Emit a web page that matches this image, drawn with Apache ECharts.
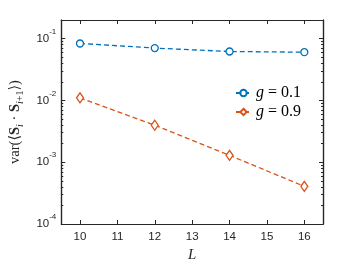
<!DOCTYPE html>
<html><head><meta charset="utf-8">
<script src="https://cdn.jsdelivr.net/npm/echarts@6/dist/echarts.min.js"></script>
<style>html,body{margin:0;padding:0;background:#fff}#c{width:357px;height:268px}</style>
</head><body><div id="c"></div>
<script>
var L = [10, 12, 14, 16];
var g01 = [0.0834, 0.0703, 0.0618, 0.0603];
var g09 = [0.0110, 0.00397, 0.00129, 0.000407];
var xTicks = [10, 11, 12, 13, 14, 15, 16];
var yDecades = [-4, -3, -2, -1];
var seriesNames = ['g = 0.1', 'g = 0.9'];

var yMin = -4, yMax = Math.log10(0.2);
var minor = [];
yDecades.forEach(function (d) {
  for (var k = 2; k <= 9; k++) {
    var v = d + Math.log10(k);
    if (v < yMax) minor.push(v);
  }
});
function pts(arr) { return L.map(function (x, i) { return [x, Math.log10(arr[i])]; }); }

var axisCol = '#262626';
var font = 'Liberation Sans, Arial, sans-serif';
var serif = 'Liberation Serif, DejaVu Serif, serif';

function yAxisDef(pos, ticks, len, labels) {
  return {
    type: 'value', position: pos, min: yMin, max: yMax,
    axisLine: { show: true, lineStyle: { color: axisCol, width: 1.2 } },
    splitLine: { show: false },
    axisTick: { show: true, inside: true, length: len, customValues: ticks, lineStyle: { color: axisCol, width: 1 } },
    axisLabel: labels ? {
      show: true, customValues: ticks, margin: 5, color: axisCol,
      formatter: function (v) { return '{b|10}{s|' + Math.round(v) + '}'; },
      rich: {
        b: { fontSize: 11.5, fontFamily: font, color: axisCol, lineHeight: 22 },
        s: { fontSize: 8, fontFamily: font, color: axisCol, verticalAlign: 'top', lineHeight: 12 }
      }
    } : { show: false }
  };
}
function xAxisDef(pos, labels) {
  return {
    type: 'value', position: pos, min: 9.5, max: 16.5,
    axisLine: { show: true, lineStyle: { color: axisCol, width: 1.2 } },
    splitLine: { show: false },
    axisTick: { show: true, inside: true, length: 4, customValues: xTicks, lineStyle: { color: axisCol, width: 1 } },
    axisLabel: labels ? { show: true, customValues: xTicks, margin: 7, fontSize: 11.5, fontFamily: font, color: axisCol } : { show: false },
    name: labels ? 'L' : '', nameLocation: 'middle', nameGap: 24,
    nameTextStyle: { fontFamily: serif, fontStyle: 'italic', fontSize: 15, color: axisCol }
  };
}

var yLeft = yAxisDef('left', yDecades, 4, true);
yLeft.name = '{r|var(⟨}{b|S}{si|i}{r| · }{b|S}{si|i}{sb|+1}{r|⟩)}';
yLeft.nameLocation = 'middle';
yLeft.nameGap = 35;
yLeft.nameRotate = 90;
yLeft.nameTextStyle = {
  rich: {
    r: { fontFamily: serif, fontSize: 14.5, color: axisCol, lineHeight: 20 },
    b: { fontFamily: serif, fontSize: 14.5, fontWeight: 'bold', color: axisCol, lineHeight: 20 },
    si: { fontFamily: serif, fontSize: 10, fontStyle: 'italic', color: axisCol, verticalAlign: 'bottom', lineHeight: 13 },
    sb: { fontFamily: serif, fontSize: 10, color: axisCol, verticalAlign: 'bottom', lineHeight: 13 }
  }
};

var option = {
  animation: false,
  backgroundColor: '#fff',
  grid: { left: 49, right: 34, top: 20, bottom: 39, containLabel: false },
  xAxis: [xAxisDef('bottom', true), xAxisDef('top', false)],
  yAxis: [
    yLeft,
    yAxisDef('left', minor, 2, false),
    yAxisDef('right', yDecades, 4, false),
    yAxisDef('right', minor, 2, false)
  ],
  legend: {
    orient: 'vertical', left: 230, top: 80, itemWidth: 15, itemHeight: 8, itemGap: 3,
    data: seriesNames,
    formatter: function (n) { return '{i|g} = ' + n.split('= ')[1]; },
    textStyle: {
      fontFamily: serif, fontSize: 16, color: '#000', lineHeight: 12,
      rich: { i: { fontFamily: serif, fontStyle: 'italic', fontSize: 16, color: '#000', lineHeight: 12 } }
    }
  },
  series: [
    {
      name: seriesNames[0], type: 'line', data: pts(g01), xAxisIndex: 0, yAxisIndex: 0,
      symbol: 'circle', symbolSize: 7, color: '#0072BD',
      itemStyle: { color: '#fff', borderColor: '#0072BD', borderWidth: 1.3 },
      lineStyle: { color: '#0072BD', width: 1.3, type: [5, 3] }
    },
    {
      name: seriesNames[1], type: 'line', data: pts(g09), xAxisIndex: 0, yAxisIndex: 0,
      symbol: 'diamond', symbolSize: [7, 10], color: '#D95319',
      itemStyle: { color: '#fff', borderColor: '#D95319', borderWidth: 1.3 },
      lineStyle: { color: '#D95319', width: 1.3, type: [5, 3] }
    }
  ]
};
echarts.init(document.getElementById('c'), null, { renderer: 'canvas' }).setOption(option);
</script></body></html>
